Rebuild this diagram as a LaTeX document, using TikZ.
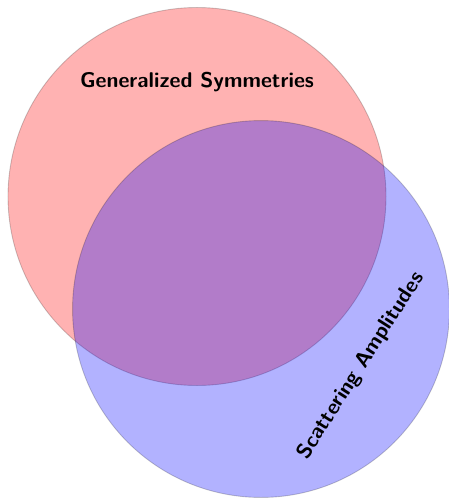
\documentclass[tikz,border=0pt]{standalone}
\begin{document}
\begin{tikzpicture}[x=0.45pt, y=-0.45pt,
  setdisk/.style={draw=black, draw opacity=0.2, line width=0.4pt, fill opacity=0.3},
  setlabel/.style={font=\sffamily\bfseries\fontsize{9.6}{11}\selectfont, inner sep=0pt}]
  \useasboundingbox (0,0) rectangle (449,498);
  % the two sets
  \path[setdisk, fill=red] (197,196.5) circle[radius=85.05pt];
  \path[setdisk, fill=blue] (261,309) circle[radius=84.8pt];
  % labels
  \node[setlabel] (gs) at (197,82) {Generalized Symmetries};
  \node[setlabel, rotate=57.5] (sa) at (361,366) {Scattering Amplitudes};
\end{tikzpicture}
\end{document}
